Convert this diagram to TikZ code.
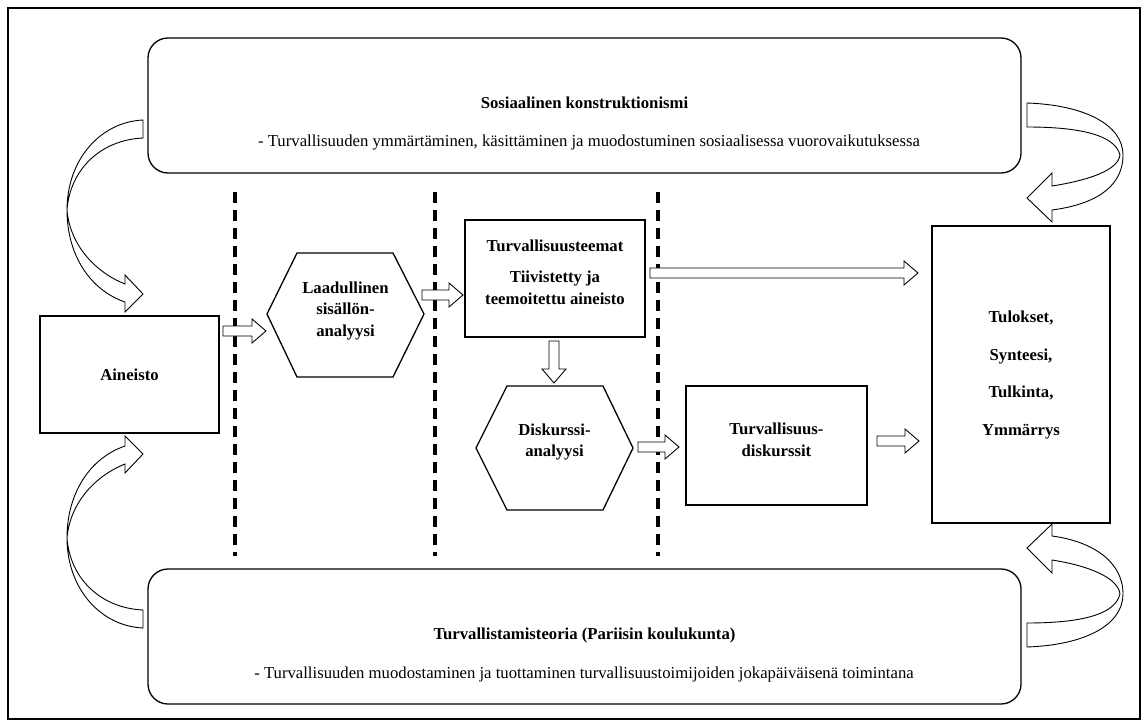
\documentclass[tikz,border=0pt]{standalone}
\usepackage{fontspec}
\setmainfont{Liberation Serif}
\usetikzlibrary{calc}
\tikzset{
  box/.style={draw, line width=1.3pt, rectangle, inner sep=0pt},
  rbox/.style={draw, line width=1.3pt, rectangle, rounded corners=20pt, inner sep=0pt},
  hexa/.style={draw, line width=1.3pt},
  lbl/.style={font=\bfseries\fontsize{16.7}{21.5}\selectfont, align=center, inner sep=0pt},
  txt/.style={font=\fontsize{16.7}{20}\selectfont, inner sep=0pt},
  ba/.style={draw, line width=0.9pt, fill=white, line join=miter},
  dsh/.style={line width=3.4pt, dash pattern=on 11pt off 7pt},
}
\newcommand\harr[3]{% x1, x2, y
  \draw[ba] (#1,#3-5) -- (#2-14,#3-5) -- (#2-14,#3-12) -- (#2,#3) -- (#2-14,#3+12) -- (#2-14,#3+5) -- (#1,#3+5) -- cycle;}
\begin{document}
\begin{tikzpicture}[x=1pt,y=-1pt]
\useasboundingbox (0,0) rectangle (1141,720);
% outer frame
\draw[line width=1.5pt] (8,8) rectangle (1140,719);

% top and bottom rounded boxes
\node[rbox, minimum width=873pt, minimum height=135pt] (soc) at (584.5,105.5) {};
\node[lbl] (soct) at (584.5,103) {Sosiaalinen konstruktionismi};
\node[txt] (socd) at (589,143) {- Turvallisuuden ymmärtäminen, käsittäminen ja muodostuminen sosiaalisessa vuorovaikutuksessa};

\node[rbox, minimum width=873pt, minimum height=135pt] (tur) at (584.5,636.5) {};
\node[lbl] (turt) at (584.5,635) {Turvallistamisteoria (Pariisin koulukunta)};
\node[txt] (turd) at (584,674) {- Turvallisuuden muodostaminen ja tuottaminen turvallisuustoimijoiden jokapäiväisenä toimintana};

% dashed separators
\draw[dsh] (235,192) -- (235,556);
\draw[dsh] (435,192) -- (435,556);
\draw[dsh] (658,192) -- (658,556);

% Aineisto
\node[box, minimum width=179pt, minimum height=117pt] (ain) at (129.5,374.5) {};
\node[lbl] at (ain.center) {Aineisto};

% hexagon 1
\draw[hexa] (267,314) -- (297,253) -- (393,253) -- (424,314) -- (393,377) -- (297,377) -- cycle;
\node[lbl] (hex1t) at (345.5,311) {Laadullinen\\sisällön-\\analyysi};

% Turvallisuusteemat box
\node[box, minimum width=180pt, minimum height=117pt] (tt) at (555,278.5) {};
\node[lbl] (tt1) at (555,246) {Turvallisuusteemat};
\node[lbl] (tt2) at (555,288) {Tiivistetty ja\\teemoitettu aineisto};

% hexagon 2
\draw[hexa] (476,448) -- (507,386) -- (603,386) -- (633,448) -- (603,510) -- (507,510) -- cycle;
\node[lbl] (hex2t) at (554.5,442) {Diskurssi-\\analyysi};

% Turvallisuus-diskurssit
\node[box, minimum width=181pt, minimum height=119pt] (td) at (776.5,445.5) {};
\node[lbl] (tdt) at (776.5,440) {Turvallisuus-\\diskurssit};

% results box
\node[box, minimum width=178pt, minimum height=297pt] (res) at (1021,374.5) {};
\node[lbl, align=center] (rest) at (1021,375) {Tulokset,\\[16pt]Synteesi,\\[16pt]Tulkinta,\\[16pt]Ymmärrys};

% block arrows
\harr{223}{266}{331}
\harr{422}{463}{295}
\harr{650}{918}{273}
\harr{638}{679}{447}
\harr{877}{919}{441}
\draw[ba] (549,341) -- (559,341) -- (559,369) -- (566,369) -- (554,383) -- (542,369) -- (549,369) -- cycle;

% curved arrows
\draw[ba] (143,120) .. controls (100,122) and (67,160) .. (67,210)
  .. controls (67,255) and (90,290) .. (125,302) -- (125,312) -- (143,294) -- (125,275) -- (125,284)
  .. controls (95,272) and (70,245) .. (67,210)
  .. controls (70,170) and (100,140) .. (143,138) -- cycle;
\draw[ba] (143,628) .. controls (100,626) and (67,588) .. (67,538)
  .. controls (67,493) and (90,458) .. (125,446) -- (125,436) -- (143,454) -- (125,473) -- (125,464)
  .. controls (95,476) and (70,503) .. (67,538)
  .. controls (70,578) and (100,608) .. (143,610) -- cycle;
\draw[ba] (1027,103) .. controls (1085,105) and (1123,125) .. (1123,155)
  .. controls (1123,190) and (1090,205) .. (1052,210) -- (1052,222) -- (1027,198) -- (1052,173) -- (1052,186)
  .. controls (1090,180) and (1118,170) .. (1120,155)
  .. controls (1115,135) and (1080,127) .. (1027,127) -- cycle;
\draw[ba] (1027,647) .. controls (1085,645) and (1123,625) .. (1123,594)
  .. controls (1123,560) and (1090,541) .. (1052,536) -- (1052,524) -- (1027,548) -- (1052,573) -- (1052,560)
  .. controls (1090,566) and (1118,578) .. (1120,594)
  .. controls (1115,615) and (1080,623) .. (1027,623) -- cycle;
\end{tikzpicture}
\end{document}
